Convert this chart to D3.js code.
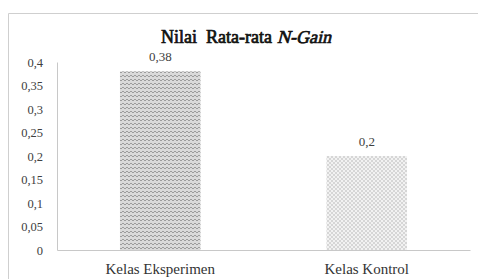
<!DOCTYPE html>
<html>
<head>
<meta charset="utf-8">
<script src="https://cdn.jsdelivr.net/npm/d3@7"></script>
<style>
  body { margin: 0; background: #fff; }
</style>
</head>
<body>
<div id="chart"></div>
<script>
// Data
const categories = ["Kelas Eksperimen", "Kelas Kontrol"];
const values = [0.38, 0.2];
const valueLabels = ["0,38", "0,2"];
const yTicks = [0, 0.05, 0.1, 0.15, 0.2, 0.25, 0.3, 0.35, 0.4];

const serif = "'Liberation Serif'";

// Dimensions
const width = 478;
const height = 279;
const margins = { top: 62, right: 8, bottom: 27, left: 57 };
const ctrWidth = width - margins.left - margins.right;
const ctrHeight = height - margins.top - margins.bottom;

const svg = d3
  .select("#chart")
  .append("svg")
  .attr("width", width)
  .attr("height", height);

// Patterns
const defs = svg.append("defs");
const zig = defs
  .append("pattern")
  .attr("id", "zig")
  .attr("width", 4)
  .attr("height", 4)
  .attr("patternUnits", "userSpaceOnUse");
zig.append("rect").attr("width", 4).attr("height", 4).attr("fill", "#dadada");
zig
  .append("path")
  .attr("d", "M0,3 L2,1 L4,3")
  .attr("stroke", "#959595")
  .attr("stroke-width", 0.9)
  .attr("fill", "none");

const dots = defs
  .append("pattern")
  .attr("id", "dots")
  .attr("width", 4)
  .attr("height", 4)
  .attr("patternUnits", "userSpaceOnUse");
dots.append("rect").attr("width", 4).attr("height", 4).attr("fill", "#f2f2f2");
dots.append("circle").attr("cx", 1).attr("cy", 1).attr("r", 0.8).attr("fill", "#b4b4b4");
dots.append("circle").attr("cx", 3).attr("cy", 3).attr("r", 0.8).attr("fill", "#b4b4b4");

// Chart area border
svg
  .append("path")
  .attr("d", `M8.5,${height} L8.5,13.5 L${width},13.5`)
  .attr("fill", "none")
  .attr("stroke", "#cfcfcf");

// Title: bold drawn with a thin stroke, italic part skewed, so the serif face is kept
const titleStyle = (sel) =>
  sel
    .style("font-size", "18px")
    .style("font-weight", "normal")
    .style("fill", "#111")
    .style("stroke", "#111")
    .style("stroke-width", "0.7px")
    .style("font-family", serif)
    .style("white-space", "pre");

const titleA = svg.append("text").call(titleStyle).text("Nilai  Rata-rata");
const titleBg = svg.append("g");
const titleB = titleBg.append("text").call(titleStyle).text("N-Gain");
const wA = titleA.node().getComputedTextLength();
const wB = titleB.node().getComputedTextLength();
const gap = 5;
const tx = 246 - (wA + gap + wB) / 2;
titleA.attr("x", tx).attr("y", 43);
titleBg.attr("transform", `translate(${tx + wA + gap}, 43) skewX(-14)`);

const ctr = svg
  .append("g")
  .attr("transform", `translate(${margins.left}, ${margins.top})`);

// Scales
const xScale = d3
  .scaleBand()
  .domain(categories)
  .range([0, ctrWidth])
  .paddingInner(0.61)
  .paddingOuter(0.305);

const yScale = d3.scaleLinear().domain([0, 0.4]).range([ctrHeight - 2, 0]);

// Bars
ctr
  .selectAll("rect.bar")
  .data(values)
  .join("rect")
  .attr("class", "bar")
  .attr("x", (d, i) => xScale(categories[i]))
  .attr("y", (d) => yScale(d))
  .attr("width", xScale.bandwidth())
  .attr("height", (d) => yScale(0) - yScale(d))
  .attr("fill", (d, i) => (i === 0 ? "url(#zig)" : "url(#dots)"));

// Value labels
ctr
  .selectAll("text.val")
  .data(values)
  .join("text")
  .attr("class", "val")
  .attr("x", (d, i) => xScale(categories[i]) + xScale.bandwidth() / 2)
  .attr("y", (d) => yScale(d) - 10)
  .attr("text-anchor", "middle")
  .style("font-size", "13px")
  .style("fill", "#404040")
  .style("font-family", serif)
  .text((d, i) => valueLabels[i]);

// Y axis
const yAxis = d3
  .axisLeft(yScale)
  .tickValues(yTicks)
  .tickSize(0)
  .tickPadding(14)
  .tickFormat((d) => d3.format("~g")(d).replace(".", ","));
const yG = ctr.append("g").call(yAxis);
yG.select(".domain").attr("stroke", "#c8c8c8");
yG.selectAll("text")
  .style("font-size", "12.5px")
  .style("fill", "#404040")
  .style("font-family", serif);

// X axis
const xAxis = d3.axisBottom(xScale).tickSize(0).tickPadding(13);
const xG = ctr
  .append("g")
  .attr("transform", `translate(0, ${yScale(0)})`)
  .call(xAxis);
xG.select(".domain").attr("stroke", "#c8c8c8");
xG.selectAll("text")
  .style("font-size", "15px")
  .style("fill", "#333")
  .style("font-family", serif);
</script>
</body>
</html>
